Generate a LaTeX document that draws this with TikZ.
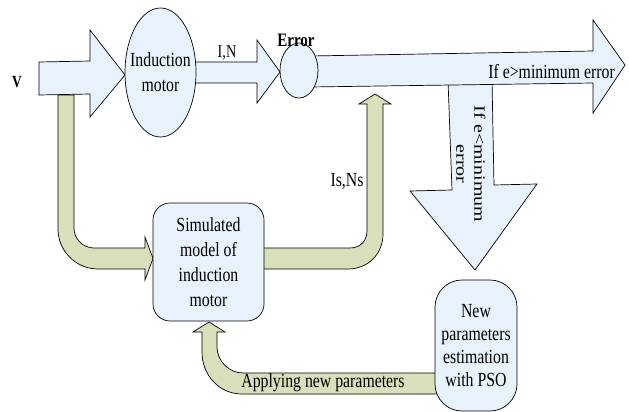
\documentclass[tikz,border=0pt]{standalone}
\usepackage{fontspec}
\setmainfont[FakeStretch=0.79]{Liberation Serif}
\newfontfamily\rotfont{Liberation Serif}
\usetikzlibrary{shapes.geometric}
\definecolor{pale}{RGB}{232,242,252}
\definecolor{sage}{RGB}{215,224,187}
\tikzset{
	blk/.style={draw,fill=pale,line width=.7pt},
	grn/.style={draw,fill=sage,line width=.7pt},
	box/.style={draw,fill=pale,line width=.7pt,inner sep=0pt},
	lbl/.style={inner sep=0pt,align=center,font=\fontsize{20}{25}\selectfont}
}

\begin{document}
\begin{tikzpicture}[x=1pt,y=-1pt]
	\useasboundingbox (0,0) rectangle (629,412);
	% feedback arrows
	\draw[grn] (58,95) -- (58,229) .. controls (58,251) and (76,269) .. (98,269) -- (145,269) -- (145,280) -- (153,258.5) -- (145,237) -- (145,248) -- (94,248) .. controls (83,248) and (74,239) .. (74,228) -- (74,95) -- cycle;
	\draw[grn] (260,248) -- (350,248) .. controls (360,248) and (367,241) .. (367,231) -- (367,104) -- (359,104) -- (375,94) -- (391,104) -- (383,104) -- (383,234) .. controls (383,254) and (368,269) .. (348,269) -- (260,269) -- cycle;
	\draw[grn] (440,373) -- (243,373) .. controls (229,373) and (217,361) .. (217,347) -- (217,332) -- (225,332) -- (209,322) -- (193,332) -- (202,332) -- (202,352) .. controls (202,375) and (219,394) .. (242,394) -- (440,394) -- cycle;
	% forward arrows
	\draw[blk] (448,80) -- (452,190) -- (410,191) -- (475,270) -- (537,184) -- (494,185) -- (492,80) -- cycle;
	\draw[blk] (39,62) -- (90,61) -- (90,30) -- (125,75) -- (90,117) -- (90,94) -- (39,95) -- cycle;
	\draw[blk] (190,62) -- (257,62) -- (257,40) -- (280,72) -- (257,103) -- (257,83) -- (190,83) -- cycle;
	\draw[blk] (310,56) -- (593,51) -- (593,20) -- (625,65) -- (593,113) -- (593,83) -- (310,87) -- cycle;

	\node[box,ellipse,minimum width=71pt,minimum height=129pt] (motor) at (160.5,72.5) {};
	\node[box,ellipse,minimum width=38pt,minimum height=55pt] (err) at (299,70.5) {};
	\node[box,rounded corners=17pt,minimum width=111pt,minimum height=118pt] (sim) at (208.5,262) {};
	\node[box,rounded corners=27pt,minimum width=82pt,minimum height=131pt] (pso) at (476,345.5) {};

	\node[lbl] (motortxt) at (motor) {Induction\\motor};
	\node[lbl] (simtxt) at (sim) {Simulated\\model of\\induction\\motor};
	\node[lbl,font=\fontsize{20}{23}\selectfont] (psotxt) at (pso) {New\\parameters\\estimation\\with PSO};
	\node[lbl,font=\bfseries\fontsize{17}{20}\selectfont] (vlbl) at (17,82) {V};
	\node[lbl,font=\bfseries\fontsize{19}{23}\selectfont] (errlbl) at (296,40) {Error};
	\node[lbl,font=\fontsize{18}{22}\selectfont] (inlbl) at (227,53) {I,N};
	\node[lbl] (isns) at (347,181) {Is,Ns};
	\node[lbl,anchor=east] (gtlbl) at (615,72) {If e>minimum error};
	\node[lbl] (applylbl) at (323,383) {Applying new parameters};
	\node[inner sep=0pt,rotate=-90] (ltlbl) at (469,164) {\scalebox{1}[0.79]{\rotfont\fontsize{20}{23}\selectfont\begin{tabular}{@{}c@{}}If e<minimum\\error\end{tabular}}};
\end{tikzpicture}
\end{document}
